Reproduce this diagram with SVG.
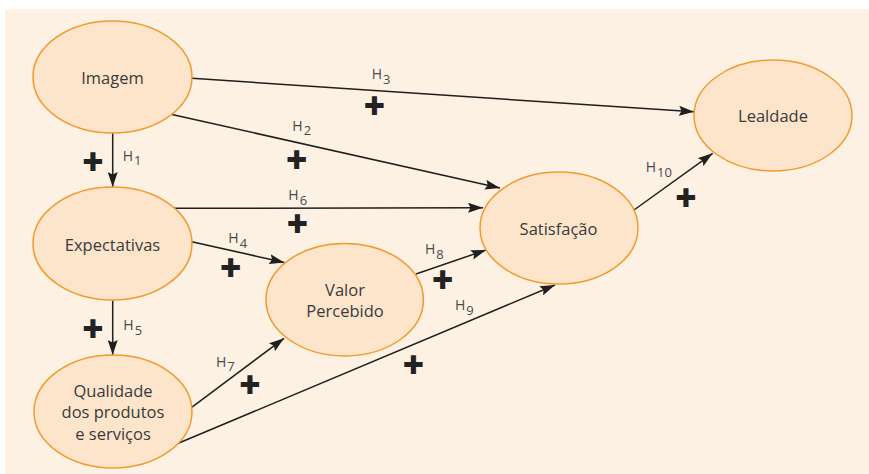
<svg xmlns="http://www.w3.org/2000/svg" width="869" height="474" viewBox="0 0 869 474">
<defs>
<marker id="arr" markerUnits="userSpaceOnUse" markerWidth="15" markerHeight="10" refX="15" refY="5" orient="auto" viewBox="0 0 15 10">
<path d="M0,0 L15,5 L0,10 L2.5,5 Z" fill="#1f1f1f"/>
</marker>
</defs>
<style>
.node ellipse{fill:#fde5cb;stroke:#f29a2e;stroke-width:1.5}
.node text{font-family:"Open Sans","Noto Sans",sans-serif;font-size:16.5px;fill:#3a3a3a;text-anchor:middle}
.edges line{stroke:#1f1f1f;stroke-width:1.5;marker-end:url(#arr)}
.lab{font-family:"Open Sans","Noto Sans",sans-serif;font-size:14px;fill:#4a4a4a}
.lab tspan{font-size:13px}
.plus{font-family:"DejaVu Sans",sans-serif;font-weight:bold;font-size:26px;fill:#222;stroke:#222;stroke-width:2;text-anchor:middle}
</style>
<rect x="5" y="9" width="864" height="465" fill="#fdf1e4"/>
<g class="edges">
<line x1="112.7" y1="133" x2="112.7" y2="187"/>
<line x1="112.7" y1="300.5" x2="112.7" y2="355"/>
<line x1="192" y1="78.3" x2="694" y2="111.8"/>
<line x1="172" y1="114.5" x2="500" y2="188"/>
<line x1="174" y1="208.3" x2="483" y2="207.7"/>
<line x1="191.7" y1="241.7" x2="284.3" y2="262.5"/>
<line x1="416" y1="274" x2="486" y2="250"/>
<line x1="178.3" y1="443.3" x2="555" y2="285"/>
<line x1="191.7" y1="407.3" x2="284" y2="338.3"/>
<line x1="634" y1="210" x2="712.7" y2="153.3"/>
</g>
<g id="imagem" class="node"><ellipse cx="112.5" cy="77" rx="79.5" ry="56"/><text x="112.5" y="84.3">Imagem</text></g>
<g id="expectativas" class="node"><ellipse cx="112.5" cy="243.5" rx="79.5" ry="56.5"/><text x="112.5" y="251">Expectativas</text></g>
<g id="qualidade" class="node"><ellipse cx="113" cy="411.5" rx="79" ry="56.5"/><text x="113" y="396.7">Qualidade</text><text x="113" y="418.3">dos produtos</text><text x="113" y="440">e serviços</text></g>
<g id="valor" class="node"><ellipse cx="344.7" cy="299.7" rx="78.7" ry="56.3"/><text x="345" y="295.7">Valor</text><text x="345" y="317.3">Percebido</text></g>
<g id="satisfacao" class="node"><ellipse cx="559" cy="228" rx="79" ry="56"/><text x="558.5" y="235">Satisfação</text></g>
<g id="lealdade" class="node"><ellipse cx="773" cy="115.5" rx="79" ry="55.5"/><text x="773" y="122.3">Lealdade</text></g>
<g id="labels">
<text class="lab" x="122.7" y="160.7">H<tspan dx="1" dy="4.5">1</tspan></text>
<text class="lab" x="123.3" y="330">H<tspan dx="1" dy="4.5">5</tspan></text>
<text class="lab" x="371.7" y="79.3">H<tspan dx="1" dy="4.5">3</tspan></text>
<text class="lab" x="292.3" y="130.7">H<tspan dx="1" dy="4.5">2</tspan></text>
<text class="lab" x="288.3" y="200">H<tspan dx="1" dy="4.5">6</tspan></text>
<text class="lab" x="228.3" y="243.3">H<tspan dx="1" dy="4.5">4</tspan></text>
<text class="lab" x="425" y="254">H<tspan dx="1" dy="4.5">8</tspan></text>
<text class="lab" x="455" y="310">H<tspan dx="1" dy="4.5">9</tspan></text>
<text class="lab" x="216" y="366.7">H<tspan dx="1" dy="4.5">7</tspan></text>
<text class="lab" x="645.7" y="172.3">H<tspan dx="1" dy="4.5">10</tspan></text>
</g>
<g id="signs">
<text class="plus" x="93" y="169.7">+</text>
<text class="plus" x="93" y="336.7">+</text>
<text class="plus" x="374.5" y="114.4">+</text>
<text class="plus" x="296.7" y="168">+</text>
<text class="plus" x="297.3" y="232">+</text>
<text class="plus" x="230.7" y="275.7">+</text>
<text class="plus" x="442.7" y="287.7">+</text>
<text class="plus" x="686" y="206.2">+</text>
<text class="plus" x="250" y="393.2">+</text>
<text class="plus" x="413.3" y="373">+</text>
</g>
</svg>
